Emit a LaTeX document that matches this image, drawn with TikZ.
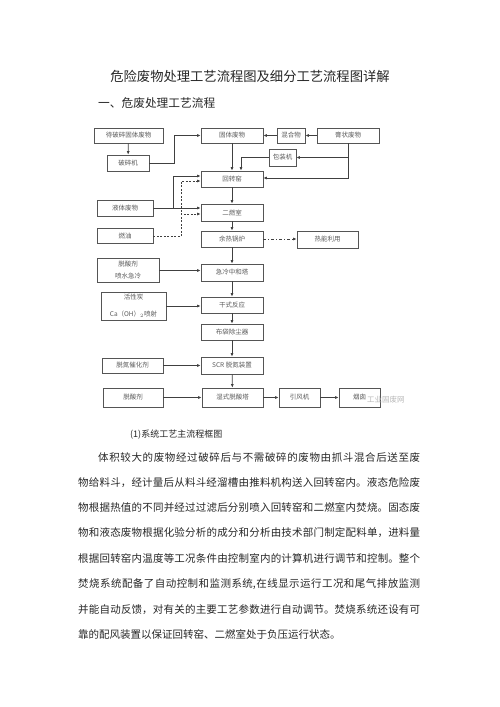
\documentclass[tikz,border=0pt]{standalone}
\usepackage{fontspec}
\setmainfont{Noto Sans CJK SC}
\usetikzlibrary{arrows.meta,calc}
\XeTeXlinebreaklocale "zh"
\XeTeXlinebreakskip=0pt plus 1pt
\definecolor{boxline}{HTML}{555555}
\definecolor{boxtext}{HTML}{5A5A5A}
\definecolor{bodyink}{HTML}{262626}

\tikzset{
  box/.style={draw=boxline, line width=0.7pt, inner sep=0pt, minimum height=16pt,
    text=boxtext, font=\fontsize{6.5}{12}\selectfont, align=center},
  flow/.style={draw=black!75, line width=0.7pt, -{Latex[length=3.5pt,width=3pt]}},
  aux/.style={flow, dash pattern=on 2pt off 1.5pt},
  heatflow/.style={flow, dash pattern=on 3pt off 2pt on 1pt off 2pt},
  body/.style={anchor=base west, inner sep=0pt, text=bodyink,
    font=\fontsize{10.5}{12}\selectfont, align=justify},
}

\begin{document}
\begin{tikzpicture}[x=1pt,y=-1pt]
  \useasboundingbox (0,0) rectangle (500,707);
  % Headings
  \node[anchor=base, inner sep=0pt, text=bodyink, font=\fontsize{13.3}{14}\selectfont]
    (title) at (250,81) {危险废物处理工艺流程图及细分工艺流程图详解};
  \node[anchor=base west, inner sep=0pt, text=bodyink, font=\fontsize{11.7}{13}\selectfont]
    (section) at (98,107.5) {一、危废处理工艺流程};

  % Nodes
  \node[box, minimum width=69pt, minimum height=15pt] (crushwaste) at (128.5,135.5) {待破碎固体废物};
  \node[box, minimum width=42pt]                      (crusher)    at (128,163)     {破碎机};
  \node[box, minimum width=62pt, minimum height=15pt] (solid)      at (232,135.5)   {固体废物};
  \node[box, minimum width=28pt, minimum height=15pt] (mix)        at (291,135.5)   {混合物};
  \node[box, minimum width=62pt, minimum height=15pt] (paste)      at (348,135.5)   {膏状废物};
  \node[box, minimum width=27pt, minimum height=17pt] (pack)       at (282.5,157.5) {包装机};
  \node[box, minimum width=62pt]                      (kiln)       at (232,179)     {回转窑};
  \node[box, minimum width=56pt]                      (liquid)     at (125,208)     {液体废物};
  \node[box, minimum width=62pt, minimum height=17pt] (second)     at (232,212.5)   {二燃室};
  \node[box, minimum width=56pt, minimum height=15pt] (oil)        at (125,236)     {燃油};
  \node[box, minimum width=62pt]                      (boiler)     at (232,239)     {余热锅炉};
  \node[box, minimum width=61pt, minimum height=17pt] (heat)       at (327.5,239.5) {热能利用};
  \node[box, minimum width=62pt, minimum height=24pt] (agent1)     at (128,270.5)   {脱酸剂\\喷水急冷};
  \node[box, minimum width=62pt, minimum height=17pt] (quench)     at (232,272.5)   {急冷中和塔};
  \node[box, minimum width=65pt, minimum height=28pt] (carbon)     at (133.5,306)   {活性炭\\[5pt]Ca（OH）$_2$喷射};
  \node[box, minimum width=62pt]                      (dry)        at (232,305)     {干式反应};
  \node[box, minimum width=62pt]                      (bag)        at (232,332)     {布袋除尘器};
  \node[box, minimum width=61pt, minimum height=15pt] (catalyst)   at (132.5,365.5) {脱氮催化剂};
  \node[box, minimum width=62pt, minimum height=17pt] (scr)        at (232,365.5)   {SCR 脱氮装置};
  \node[box, minimum width=60pt, minimum height=19pt] (agent2)     at (133,397.5)   {脱酸剂};
  \node[box, minimum width=61pt, minimum height=19pt] (wet)        at (232.5,397.5) {湿式脱酸塔};
  \node[box, minimum width=41pt, minimum height=19pt] (fan)        at (299.5,397.5) {引风机};
  \node[box, minimum width=41pt, minimum height=19pt] (stack)      at (359.5,397.5) {烟囱};
  \node[anchor=west, inner sep=0pt, text=black!28, font=\fontsize{7.5}{8}\selectfont]
    (mark) at (367,400) {工业固废网};

  % Edges
  \draw[flow] (crushwaste) -- (crusher);
  \draw[flow] (crusher.east) -- ++(25,0) |- (solid.west);
  \draw[flow] (mix) -- (solid);
  \draw[flow] (paste) -- (mix);
  \draw[flow] (paste.south) |- (pack.east);
  \draw[flow] (paste.south) |- ([yshift=1pt]kiln.east);
  \draw[flow] (pack.west) -| ([xshift=9pt]kiln.north);
  \draw[flow] (solid) -- (kiln);
  \draw[flow] (kiln) -- (second);
  \coordinate (liqjoin) at ($(liquid.east)+(20,0)$);
  \draw[flow] (liquid.east) -- (liquid.east -| second.west);
  \draw[flow] (liqjoin) |- ([yshift=3pt]kiln.west);
  \coordinate (oiljoin) at ($(oil.east)+(28,0)$);
  \draw[aux] (oil.east) -- (oiljoin) |- ([yshift=-2pt]kiln.west);
  \draw[aux] (oiljoin) |- ([yshift=-1.5pt]second.west);
  \draw[flow] (second) -- (boiler);
  \draw[heatflow] (boiler.east) -- (boiler.east -| heat.west);
  \draw[flow] (boiler) -- (quench);
  \draw[flow] (agent1.east) -- (agent1.east -| quench.west);
  \draw[flow] (quench) -- (dry);
  \draw[flow] (carbon.east) -- (carbon.east -| dry.west);
  \draw[flow] (dry) -- (bag);
  \draw[flow] (bag) -- (scr);
  \draw[flow] (catalyst) -- (scr);
  \draw[flow] (scr) -- (wet);
  \draw[flow] (agent2) -- (wet);
  \draw[flow] (wet) -- (fan);
  \draw[flow] (fan) -- (stack);

  % Text below the chart
  \node[anchor=base west, inner sep=0pt, text=bodyink, font=\fontsize{9}{11}\selectfont]
    (caption) at (130,437.5) {(1)系统工艺主流程框图};
  \node[body, text width=322pt] (line1) at (98,461)
    {\parfillskip=0pt 体积较大的废物经过破碎后与不需破碎的废物由抓斗混合后送至废\par};
  \node[body, text width=342pt] (line2) at (78,486.5)
    {\parfillskip=0pt 物给料斗，经计量后从料斗经溜槽由推料机构送入回转窑内。液态危险废\par};
  \node[body, text width=342pt] (line3) at (78,511.5)
    {\parfillskip=0pt 物根据热值的不同并经过过滤后分别喷入回转窑和二燃室内焚烧。固态废\par};
  \node[body, text width=342pt] (line4) at (78,536.5)
    {\parfillskip=0pt 物和液态废物根据化验分析的成分和分析由技术部门制定配料单，进料量\par};
  \node[body, text width=342pt] (line5) at (78,562)
    {\parfillskip=0pt 根据回转窑内温度等工况条件由控制室内的计算机进行调节和控制。整个\par};
  \node[body, text width=342pt] (line6) at (78,587.5)
    {\parfillskip=0pt 焚烧系统配备了自动控制和监测系统,在线显示运行工况和尾气排放监测\par};
  \node[body, text width=342pt] (line7) at (78,613)
    {\parfillskip=0pt 并能自动反馈，对有关的主要工艺参数进行自动调节。焚烧系统还设有可\par};
  \node[anchor=base west, inner sep=0pt, text=bodyink, font=\fontsize{10.5}{12}\selectfont]
    (line8) at (78,638.5) {靠的配风装置以保证回转窑、二燃室处于负压运行状态。};
\end{tikzpicture}
\end{document}
